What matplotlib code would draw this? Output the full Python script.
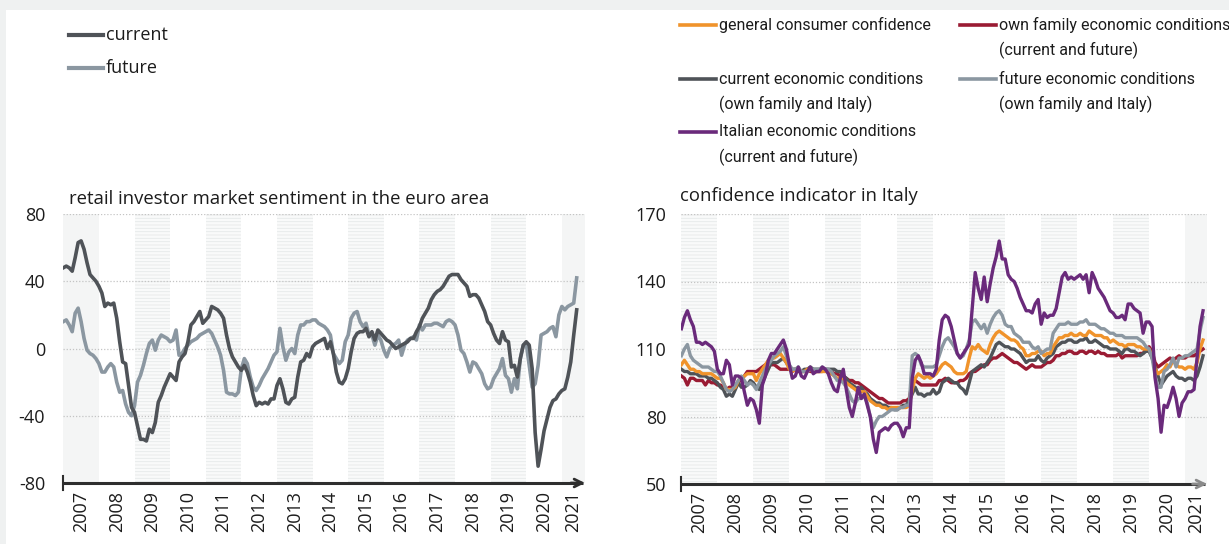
import numpy as np
import matplotlib.pyplot as plt
from matplotlib.lines import Line2D
from matplotlib.patches import Rectangle

W, H = 1229, 544

# ---------------- data (monthly, from Jan 2007) ----------------
years = list(range(2007, 2022))
year_labels = [str(y) for y in years]

# retail investor market sentiment, euro area
ea_current = [
    48, 49, 48, 46, 54, 63, 64, 59, 51, 44, 42, 40,
    37, 33, 25, 27, 26, 27, 18, 4, -8, -9, -22, -35,
    -38, -46, -54, -54, -55, -48, -50, -44, -32, -28, -23, -19,
    -15, -17, -19, -8, -5, -3, 4, 14, 16, 19, 22, 15,
    17, 19, 25, 24, 23, 21, 18, 8, 0, -5, -8, -11,
    -13, -10, -14, -20, -28, -34, -32, -33, -32, -33, -30, -30,
    -22, -18, -24, -32, -33, -30, -29, -17, -8, -7, -3, -5,
    1, 3, 4, 5, 6, 0, 4, -3, -14, -20, -21, -18,
    -12, -2, 6, 9, 10, 10, 12, 7, 10, 5, 11, 9,
    7, 5, 4, 2, 0, 1, 2, 3, 4, 6, 6, 10,
    13, 18, 21, 24, 29, 32, 34, 35, 37, 40, 43, 44,
    44, 44, 41, 39, 37, 31, 32, 32, 30, 26, 22, 16,
    14, 9, 5, 3, 10, 5, 4, -11, -10, -17, -6, 2,
    4, 2, -12, -50, -70, -60, -49, -42, -35, -31, -30, -27,
    -25, -24, -17, -8, 8, 23,
]
ea_future = [
    16, 17, 14, 10, 21, 24, 16, 6, -1, -3, -4, -6,
    -9, -14, -14, -11, -9, -11, -20, -26, -25, -33, -38, -40,
    -34, -20, -16, -10, -3, 3, 5, -1, 5, 8, 7, 6,
    4, 5, 11, -4, -3, 0, 2, 4, 5, 6, 8, 9,
    10, 11, 9, 5, 1, -4, -13, -26, -27, -27, -28, -26,
    -12, -6, -9, -17, -23, -25, -22, -18, -15, -12, -8, -4,
    -2, 12, 1, -7, -2, 0, -3, 8, 14, 14, 16, 16,
    17, 17, 15, 14, 13, 11, 8, -3, -6, -9, -7, 4,
    8, 18, 21, 22, 16, 13, 15, 8, 8, 2, 8, 5,
    -1, -5, 0, 2, 3, 5, -4, 2, 5, 6, 7, 5,
    14, 11, 14, 14, 14, 15, 15, 14, 13, 16, 17, 16,
    14, 8, -1, -3, -8, -14, -8, -9, -12, -15, -21, -24,
    -23, -18, -15, -12, -6, -16, -18, -26, -18, -24, -6, 2,
    3, -10, -23, -21, -10, 8, 9, 10, 12, 13, 7, 20,
    25, 23, 25, 26, 27, 42,
]

# confidence indicators, Italy
it_general = [
    103, 105, 103, 101, 101, 100, 100, 99, 99, 99, 99, 98,
    97, 97, 95, 92, 92, 92, 93, 96, 97, 98, 99, 99,
    99, 96, 99, 101, 103, 105, 106, 106, 107, 108, 106, 104,
    101, 100, 101, 101, 100, 100, 101, 101, 100, 100, 100, 100,
    100, 100, 99, 98, 97, 97, 96, 95, 94, 93, 92, 91,
    91, 91, 89, 87, 86, 85, 85, 84, 84, 83, 84, 84,
    84, 84, 84, 84, 85, 92, 97, 99, 98, 97, 98, 97,
    98, 99, 101, 103, 104, 103, 102, 100, 99, 99, 99, 100,
    106, 111, 110, 112, 110, 109, 108, 112, 115, 117, 118, 117,
    116, 115, 114, 114, 113, 111, 110, 107, 107, 108, 108, 109,
    109, 107, 108, 108, 111, 113, 115, 115, 116, 116, 117, 116,
    116, 117, 116, 116, 118, 117, 116, 116, 116, 115, 115, 113,
    114, 113, 112, 112, 111, 112, 112, 112, 111, 111, 110, 110,
    110, 107, 101, 99, 100, 101, 103, 102, 105, 103, 102, 102,
    101, 102, 102, 101, 104, 110, 114,
]
it_family = [
    98, 97, 94, 97, 97, 96, 96, 96, 94, 96, 95, 95,
    94, 94, 93, 92, 93, 93, 94, 95, 97, 98, 100, 100,
    100, 100, 101, 102, 103, 103, 103, 103, 102, 101, 101, 101,
    101, 100, 101, 100, 100, 100, 101, 100, 100, 100, 100, 100,
    101, 100, 100, 99, 99, 98, 98, 97, 96, 96, 95, 95,
    94, 93, 92, 91, 90, 89, 88, 88, 87, 86, 86, 86,
    86, 86, 87, 87, 88, 95, 96, 95, 94, 94, 94, 94,
    94, 94, 96, 96, 97, 96, 95, 95, 95, 96, 96, 97,
    99, 100, 100, 101, 102, 103, 103, 105, 106, 106, 107, 108,
    107, 106, 105, 104, 104, 103, 102, 101, 102, 103, 102, 102,
    102, 103, 104, 104, 105, 107, 107, 108, 108, 109, 109, 108,
    108, 109, 109, 108, 109, 109, 108, 109, 108, 108, 107, 107,
    107, 107, 108, 106, 107, 107, 107, 107, 107, 108, 108, 110,
    111, 109, 104, 102, 103, 104, 105, 106, 105, 106, 107, 106,
    106, 107, 107, 107, 108, 109, 110,
]
it_current = [
    101, 100, 100, 99, 99, 99, 98, 98, 98, 97, 97, 96,
    95, 93, 92, 89, 90, 89, 92, 95, 93, 93, 94, 96,
    95, 93, 92, 95, 98, 101, 104, 104, 104, 105, 106, 104,
    102, 101, 101, 101, 100, 101, 101, 102, 101, 101, 101, 101,
    101, 101, 101, 101, 100, 100, 98, 97, 95, 94, 93, 92,
    93, 91, 90, 88, 87, 86, 86, 85, 85, 84, 84, 83,
    83, 84, 85, 85, 87, 90, 93, 90, 90, 89, 90, 90,
    92, 90, 91, 95, 96, 97, 96, 95, 95, 93, 92, 90,
    95, 100, 101, 102, 103, 102, 104, 106, 109, 112, 113, 112,
    111, 111, 110, 110, 109, 108, 106, 104, 105, 105, 105, 107,
    105, 104, 106, 107, 108, 111, 112, 113, 113, 114, 114, 113,
    113, 114, 114, 115, 113, 113, 114, 113, 112, 111, 111, 110,
    110, 110, 109, 108, 110, 110, 109, 109, 108, 107, 108, 109,
    109, 106, 102, 98, 94, 96, 98, 99, 100, 98, 97, 97,
    96, 97, 97, 96, 98, 102, 107,
]
it_future = [
    107, 110, 112, 107, 105, 104, 103, 102, 102, 102, 101, 100,
    100, 98, 95, 92, 91, 92, 94, 96, 98, 96, 94, 95,
    94, 92, 95, 98, 101, 103, 105, 107, 108, 109, 111, 107,
    103, 101, 101, 102, 100, 100, 100, 101, 101, 101, 101, 102,
    101, 101, 100, 98, 96, 96, 95, 93, 90, 87, 86, 88,
    88, 89, 86, 80, 75, 78, 80, 80, 81, 82, 83, 83,
    83, 84, 84, 85, 85, 107, 108, 107, 103, 102, 102, 102,
    102, 103, 107, 111, 114, 115, 113, 111, 108, 106, 107, 110,
    114, 122, 123, 121, 119, 121, 117, 121, 124, 126, 127, 125,
    121, 120, 120, 117, 116, 115, 113, 113, 113, 111, 110, 111,
    108, 109, 110, 110, 117, 119, 121, 121, 121, 122, 121, 121,
    121, 122, 122, 123, 121, 121, 121, 120, 119, 119, 118, 117,
    117, 116, 116, 116, 115, 115, 115, 115, 115, 114, 113, 111,
    110, 106, 98, 93, 93, 100, 101, 103, 106, 102, 106, 106,
    107, 107, 108, 109, 110, 118, 124,
]
it_italy = [
    119, 124, 127, 123, 120, 113, 113, 112, 113, 112, 111, 109,
    101, 99, 99, 105, 103, 94, 98, 98, 97, 91, 85, 88,
    87, 83, 77, 94, 98, 105, 108, 108, 110, 112, 114, 110,
    103, 97, 98, 102, 98, 97, 100, 102, 99, 100, 100, 102,
    101, 99, 95, 92, 91, 97, 101, 92, 84, 80, 86, 93,
    88, 90, 85, 80, 70, 64, 73, 74, 75, 74, 76, 77,
    77, 75, 71, 75, 75, 97, 105, 107, 104, 99, 99, 99,
    98, 101, 114, 123, 125, 124, 120, 114, 108, 106, 108, 110,
    112, 128, 144, 137, 132, 142, 131, 139, 146, 151, 158, 150,
    150, 143, 141, 140, 137, 133, 130, 127, 127, 126, 130, 132,
    121, 126, 124, 125, 125, 128, 135, 142, 144, 141, 142, 141,
    142, 143, 141, 143, 135, 144, 141, 137, 135, 133, 130, 127,
    126, 124, 124, 125, 123, 130, 130, 128, 127, 126, 117, 122,
    122, 120, 97, 88, 73, 85, 84, 88, 93, 88, 80, 86,
    88, 91, 91, 92, 106, 120, 127,
]

left_ticks = [-80, -40, 0, 40, 80]
right_ticks = [50, 80, 110, 140, 170]

C_CUR = '#4f5358'
C_FUT = '#8b97a1'
C_ORANGE = '#f0932b'
C_RED = '#9a1b33'
C_PURPLE = '#6a2a7b'
TXT = '#1c1c1c'

plt.rcParams['font.family'] = ['Open Sans', 'DejaVu Sans']
plt.rcParams['hatch.linewidth'] = 0.6
plt.rcParams['hatch.color'] = '#e6e9e9'


def months(series):
    return 2007 + np.arange(len(series)) / 12.0


def fx(px):
    return px / W


def fy(py):
    return 1 - py / H


def setup(ax, xmax, ticks, solid_first, tick_d, arrow_col):
    ylo, yhi = ticks[0], ticks[-1]
    ax.set_xlim(2007, xmax)
    ax.set_ylim(ylo, yhi)
    for s in ax.spines.values():
        s.set_visible(False)
    # shaded odd years
    for yr in range(2007, 2022, 2):
        right = min(yr + 1, xmax)
        if yr == 2021 or (yr == 2007 and solid_first):
            ax.axvspan(yr, right, color='#f4f5f5', lw=0, zorder=0)
        else:
            ax.axvspan(yr, right, facecolor='#f9fafa', edgecolor='#e6e9e9',
                       hatch='-----', lw=0, zorder=0)
    for v in ticks[1:]:
        ax.axhline(v, color='#c4c4c4', lw=0.9, ls=(0, (1, 1.5)), zorder=1)
    ax.set_yticks(ticks)
    ax.set_yticklabels([str(v) for v in ticks])
    centers = [y + 0.5 for y in years[:-1]] + [(2021 + xmax) / 2]
    ax.set_xticks(centers)
    ax.set_xticklabels(year_labels, rotation=90)
    ax.tick_params(axis='both', length=0, labelsize=13, colors=TXT)
    ax.tick_params(axis='x', pad=6)
    # x axis with arrow
    ax.plot([2007, xmax - 0.05], [ylo, ylo], color='#2e2e2e', lw=2.2,
            clip_on=False, zorder=5, solid_capstyle='butt')
    ax.annotate('', xy=(xmax, ylo), xytext=(xmax - 0.4, ylo),
                arrowprops=dict(arrowstyle='->', color=arrow_col, lw=2.0,
                                shrinkA=0, shrinkB=0, mutation_scale=14),
                annotation_clip=False, zorder=6)
    ax.plot([2007, 2007], [ylo - tick_d, ylo + tick_d], color='#2e2e2e',
            lw=1.5, clip_on=False, zorder=5)


fig = plt.figure(figsize=(W / 100, H / 100), dpi=100)
fig.patch.set_facecolor('white')
fig.add_artist(Rectangle((0, fy(10)), 1, 10 / H, transform=fig.transFigure,
                         color='#eff1f1', lw=0, zorder=0))
fig.add_artist(Rectangle((0, 0), 6 / W, 1, transform=fig.transFigure,
                         color='#eff1f1', lw=0, zorder=0))

# ---------------- left panel ----------------
ax1 = fig.add_axes([fx(63.3), fy(483), (585 - 63.3) / W, (483 - 214) / H])
setup(ax1, 2021.65, left_ticks, True, 4, '#2e2e2e')
ax1.tick_params(axis='y', pad=13)
ax1.plot(months(ea_future), ea_future, color=C_FUT, lw=2.6, zorder=3)
ax1.plot(months(ea_current), ea_current, color=C_CUR, lw=2.6, zorder=4)

fig.text(fx(69), fy(199), 'retail investor market sentiment in the euro area',
         fontsize=13.3, color=TXT, va='center', ha='left')

for yy, col, lab in [(35, C_CUR, 'current'), (68, C_FUT, 'future')]:
    fig.add_artist(Line2D([fx(69), fx(103)], [fy(yy), fy(yy)], color=col, lw=3))
    fig.text(fx(106), fy(yy), lab, fontsize=13, color=TXT, va='center', ha='left')

# ---------------- right panel ----------------
ax2 = fig.add_axes([fx(681.4), fy(484), (1207 - 681.4) / W, (484 - 214) / H])
setup(ax2, 2021.61, right_ticks, False, 3, '#8a8a8a')
ax2.tick_params(axis='y', pad=11)
x_it = months(it_general)
ax2.plot(x_it, it_family, color=C_RED, lw=2.4, zorder=3)
ax2.plot(x_it, it_current, color=C_CUR, lw=2.4, zorder=3)
ax2.plot(x_it, it_general, color=C_ORANGE, lw=2.4, zorder=3)
ax2.plot(x_it, it_future, color=C_FUT, lw=2.4, zorder=3)
ax2.plot(x_it, it_italy, color=C_PURPLE, lw=2.4, zorder=4)

fig.text(fx(680), fy(196), 'confidence indicator in Italy',
         fontsize=13.3, color=TXT, va='center', ha='left')

legend_items = [
    (680, 25, C_ORANGE, ['general consumer confidence']),
    (960, 25, C_RED, ['own family economic conditions', '(current and future)']),
    (680, 79, C_CUR, ['current economic conditions', '(own family and Italy)']),
    (960, 79, C_FUT, ['future economic conditions', '(own family and Italy)']),
    (680, 132, C_PURPLE, ['Italian economic conditions', '(current and future)']),
]
for lx, ly, col, lines in legend_items:
    fig.add_artist(Line2D([fx(lx), fx(lx + 36)], [fy(ly), fy(ly)], color=col, lw=2.6))
    for k, lab in enumerate(lines):
        fig.text(fx(lx + 39), fy(ly + 25 * k), lab, family='Roboto', fontsize=11.5,
                 color=TXT, va='center', ha='left')

fig.savefig('out.png', dpi=100, facecolor=fig.get_facecolor())
